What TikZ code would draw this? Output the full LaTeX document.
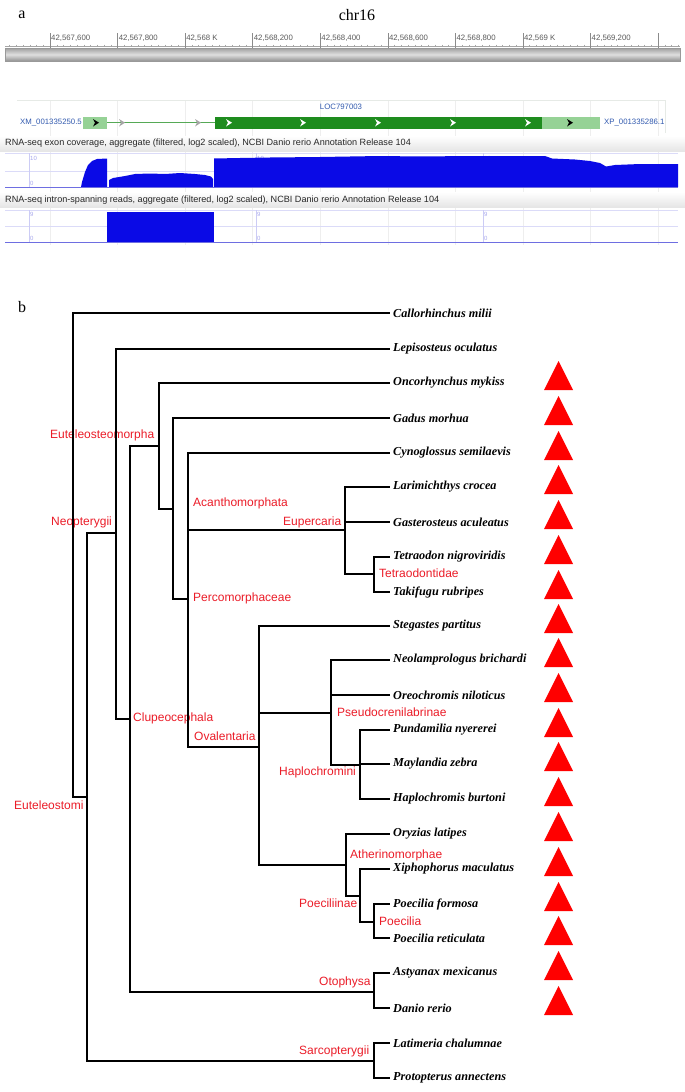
\documentclass[tikz,border=0pt]{standalone}
\usepackage{fontspec}
\setmainfont{Liberation Serif}
\newfontfamily\arial{Liberation Sans}
\definecolor{cladered}{RGB}{235,28,40}
\definecolor{linkblue}{RGB}{50,90,175}
\definecolor{exongreen}{RGB}{30,140,30}
\definecolor{utrgreen}{RGB}{150,210,150}
\definecolor{covblue}{RGB}{10,10,230}
\definecolor{axisblue}{RGB}{110,110,225}
\definecolor{tickgray}{RGB}{90,90,90}
\begin{document}
\begin{tikzpicture}[x=1pt,y=-1pt,
  branch/.style={line width=1.9pt,black},
  leaf/.style={anchor=west,inner xsep=3pt,inner ysep=0pt,font=\fontsize{12.2}{14}\selectfont\bfseries\itshape},
  clade/.style={anchor=west,inner sep=0pt,text=cladered,font=\arial\fontsize{12}{14}\selectfont},
  panel/.style={anchor=center,inner sep=0pt,font=\fontsize{16}{18}\selectfont},
  ticklab/.style={anchor=west,inner sep=0pt,text=tickgray,font=\arial\fontsize{7.8}{8}\selectfont},
  hdr/.style={anchor=west,inner sep=0pt,text=black!85,font=\arial\fontsize{9.1}{10}\selectfont},
  scl/.style={anchor=west,inner sep=0pt,text=axisblue!60,font=\arial\fontsize{6}{7}\selectfont},
  acc/.style={anchor=west,inner sep=0pt,text=linkblue,font=\arial\fontsize{7.8}{9}\selectfont},
  redtri/.style={fill=red}
]
\useasboundingbox (0,0) rectangle (685,1092);
\fill[white] (0,0) rectangle (685,1092);

% ---------------- panel a ----------------
\node[panel] (pa) at (22,15) {a};
\node[panel] (chr) at (357,15) {chr16};

% ruler
\draw[gray!70,line width=0.5pt] (5,46) -- (680,46);
\foreach \i in {-6,...,93} {
  \draw[gray!70,line width=0.4pt] (50+6.756*\i,44.5) -- (50+6.756*\i,47);
}
\foreach \k in {0,...,9} {
  \draw[tickgray!70,line width=0.6pt] (50+67.56*\k,33) -- (50+67.56*\k,48);
}
\foreach \k/\t in {0/{42,567,600},1/{42,567,800},2/{42,568 K},3/{42,568,200},4/{42,568,400},5/{42,568,600},6/{42,568,800},7/{42,569 K},8/{42,569,200}} {
  \node[ticklab] (tl\k) at (51+67.56*\k,38) {\t};
}
\shade[top color=gray!75,bottom color=gray!85,middle color=gray!25] (5,48) rectangle (680,61);
\draw[gray!80,line width=0.4pt] (5,48) rectangle (680,61);

% grid lines
\foreach \k in {0,...,9} {
  \draw[gray!13,line width=0.6pt] (50+67.56*\k,100) -- (50+67.56*\k,245);
}
\draw[green!8!gray!18,line width=0.5pt] (17,100) -- (665,100) -- (665,133);

% gene model
\node[anchor=center,inner sep=0pt,text=linkblue,font=\arial\fontsize{7.8}{9}\selectfont] (loc) at (341,107) {LOC797003};
\node[acc] (xm) at (20,123) {XM\_001335250.5};
\node[acc] (xp) at (604,123) {XP\_001335286.1};
\draw[exongreen!75!white,line width=1.6pt] (107,122.5) -- (215,122.5);
\fill[utrgreen] (83,117) rectangle (107,128.5);
\fill[exongreen] (215,116.5) rectangle (542,129);
\fill[utrgreen] (542,117) rectangle (600,128.5);
\foreach \x in {96,570} {
  \fill[black] (\x-3,119) -- (\x+3,122.7) -- (\x-3,126.5) -- (\x-1,122.7) -- cycle;
}
\foreach \x in {122,198} {
  \fill[gray!70] (\x-3,119) -- (\x+3,122.7) -- (\x-3,126.5) -- (\x-1,122.7) -- cycle;
}
\foreach \x in {229,303,378,453,528} {
  \fill[white] (\x-3,119) -- (\x+3,122.7) -- (\x-3,126.5) -- (\x-1,122.7) -- cycle;
}

% track 1
\shade[top color=white,bottom color=gray!20] (0,136) rectangle (685,151);
\node[hdr] (h1) at (5,143.5) {RNA-seq exon coverage, aggregate (filtered, log2 scaled), NCBI Danio rerio Annotation Release 104};
\draw[axisblue!25,line width=0.5pt] (5,153.5) -- (678,153.5);
\draw[axisblue!25,line width=0.5pt] (5,171) -- (678,171);
\foreach \x in {29,256,483} {
  \draw[axisblue!35,line width=0.4pt] (\x,153) -- (\x,187);
  \node[scl] at (\x+1,158) {10};
  \node[scl] at (\x+1,183) {0};
}
\fill[covblue] (81,187) -- (82,182) -- (85,172) -- (88,165) -- (92,161) -- (97,159) -- (107,158.5) -- (107,187) -- cycle;
\fill[covblue] (109,187) -- (109,180) -- (113,178) -- (125,176) -- (135,174) -- (150,173.5) -- (165,174) -- (180,173) -- (195,174) -- (205,175) -- (211,176.5) -- (213,179) -- (213,187) -- cycle;
\fill[covblue] (214,187) -- (214,158.5) -- (240,158) -- (270,157.5) -- (320,157) -- (380,156) -- (420,156.5) -- (470,156) -- (545,156) -- (552,158.5) -- (575,159.5) -- (590,161) -- (600,163) -- (606,166.5) -- (615,165) -- (640,164) -- (678,164) -- (678,187) -- cycle;
\draw[axisblue,line width=1pt] (5,187) -- (678,187);

% track 2
\shade[top color=white,bottom color=gray!20] (0,192) rectangle (685,207);
\node[hdr] (h2) at (5,200) {RNA-seq intron-spanning reads, aggregate (filtered, log2 scaled), NCBI Danio rerio Annotation Release 104};
\draw[axisblue!25,line width=0.5pt] (5,210) -- (678,210);
\draw[axisblue!25,line width=0.5pt] (5,226) -- (678,226);
\foreach \x in {29,256,483} {
  \draw[axisblue!35,line width=0.4pt] (\x,210) -- (\x,242);
  \node[scl] at (\x+1,214) {9};
  \node[scl] at (\x+1,238) {0};
}
\fill[covblue] (107,212) rectangle (214,242);
\draw[axisblue,line width=1pt] (5,242) -- (678,242);

% ---------------- panel b ----------------
\node[panel] (pb) at (22,307) {b};

% clade labels (drawn first, lines pass over them)
\node[clade] (lEutm) at (50,435) {Euteleosteomorpha};
\node[clade] (lNeop) at (51,522) {Neopterygii};
\node[clade] (lAcan) at (193,503) {Acanthomorphata};
\node[clade] (lEupe) at (283,522) {Eupercaria};
\node[clade] (lTetr) at (379,573) {Tetraodontidae};
\node[clade] (lPerc) at (193,598) {Percomorphaceae};
\node[clade] (lClup) at (133,718) {Clupeocephala};
\node[clade] (lOval) at (194,736) {Ovalentaria};
\node[clade] (lPseu) at (337,712) {Pseudocrenilabrinae};
\node[clade] (lHapl) at (279,772) {Haplochromini};
\node[clade] (lEutt) at (14,805) {Euteleostomi};
\node[clade] (lAthe) at (350,855) {Atherinomorphae};
\node[clade] (lPcin) at (299,903) {Poeciliinae};
\node[clade] (lPoec) at (379,921) {Poecilia};
\node[clade] (lOtop) at (319,982) {Otophysa};
\node[clade] (lSarc) at (299,1051) {Sarcopterygii};

% leaves
\node[leaf] (s1) at (390,313) {Callorhinchus milii};
\node[leaf] (s2) at (390,349) {Lepisosteus oculatus};
\node[leaf] (s3) at (390,383) {Oncorhynchus mykiss};
\node[leaf] (s4) at (390,418) {Gadus morhua};
\node[leaf] (s5) at (390,453) {Cynoglossus semilaevis};
\node[leaf] (s6) at (390,487) {Larimichthys crocea};
\node[leaf] (s7) at (390,522) {Gasterosteus aculeatus};
\node[leaf] (s8) at (390,557) {Tetraodon nigroviridis};
\node[leaf] (s9) at (390,592) {Takifugu rubripes};
\node[leaf] (s10) at (390,626) {Stegastes partitus};
\node[leaf] (s11) at (390,660) {Neolamprologus brichardi};
\node[leaf] (s12) at (390,695) {Oreochromis niloticus};
\node[leaf] (s13) at (390,730) {Pundamilia nyererei};
\node[leaf] (s14) at (390,764) {Maylandia zebra};
\node[leaf] (s15) at (390,799) {Haplochromis burtoni};
\node[leaf] (s16) at (390,834) {Oryzias latipes};
\node[leaf] (s17) at (390,869) {Xiphophorus maculatus};
\node[leaf] (s18) at (390,904) {Poecilia formosa};
\node[leaf] (s19) at (390,938) {Poecilia reticulata};
\node[leaf] (s20) at (390,973) {Astyanax mexicanus};
\node[leaf] (s21) at (390,1008) {Danio rerio};
\node[leaf] (s22) at (390,1043) {Latimeria chalumnae};
\node[leaf] (s23) at (390,1078) {Protopterus annectens};

% internal nodes
\coordinate (R) at (73,555);
\coordinate (N1) at (87,797);
\coordinate (N2) at (116,533);
\coordinate (N3) at (130,719);
\coordinate (N4) at (159,446);
\coordinate (N5) at (173,509);
\coordinate (N6) at (188,599);
\coordinate (Eup) at (345,530);
\coordinate (Tet) at (374,574);
\coordinate (Ova) at (259,747);
\coordinate (Pse) at (331,713);
\coordinate (Hap) at (360,765);
\coordinate (Ath) at (346,865);
\coordinate (Pcn) at (360,896);
\coordinate (Poe) at (374,922);
\coordinate (Oto) at (374,992);
\coordinate (Sar) at (374,1061);

\begin{scope}[branch]
\draw (R) |- (s1.west);  \draw (R) |- (N1);
\draw (N1) |- (N2);      \draw (N1) |- (Sar);
\draw (N2) |- (s2.west); \draw (N2) |- (N3);
\draw (N3) |- (N4);      \draw (N3) |- (Oto);
\draw (N4) |- (s3.west); \draw (N4) |- (N5);
\draw (N5) |- (s4.west); \draw (N5) |- (N6);
\draw (N6) |- (s5.west); \draw (N6) |- (Eup); \draw (N6) |- (Ova);
\draw (Eup) |- (s6.west); \draw (Eup) |- (s7.west); \draw (Eup) |- (Tet);
\draw (Tet) |- (s8.west); \draw (Tet) |- (s9.west);
\draw (Ova) |- (s10.west); \draw (Ova) |- (Pse); \draw (Ova) |- (Ath);
\draw (Pse) |- (s11.west); \draw (Pse) |- (s12.west); \draw (Pse) |- (Hap);
\draw (Hap) |- (s13.west); \draw (Hap) |- (s14.west); \draw (Hap) |- (s15.west);
\draw (Ath) |- (s16.west); \draw (Ath) |- (Pcn);
\draw (Pcn) |- (s17.west); \draw (Pcn) |- (Poe);
\draw (Poe) |- (s18.west); \draw (Poe) |- (s19.west);
\draw (Oto) |- (s20.west); \draw (Oto) |- (s21.west);
\draw (Sar) |- (s22.west); \draw (Sar) |- (s23.west);
\end{scope}

% triangles
\foreach \y in {383,418,453,487,522,557,592,626,660,695,730,764,799,834,869,904,938,973,1008} {
  \fill[redtri] (544,\y+7) -- (573,\y+7) -- (558.5,\y-22) -- cycle;
}
\end{tikzpicture}
\end{document}
